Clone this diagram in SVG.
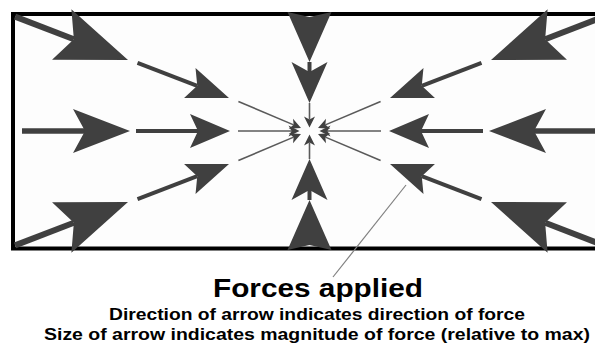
<svg xmlns="http://www.w3.org/2000/svg" xmlns:xlink="http://www.w3.org/1999/xlink" width="595" height="347" viewBox="0 0 595 347">
<style>
.frame{fill:#fdfdfd;stroke:#000;stroke-width:4}
.head{fill:#404040}
.sb{stroke:#404040;stroke-width:6;fill:none}
.sh{stroke:#404040;stroke-width:5.5;fill:none}
.sm{stroke:#404040;stroke-width:4;fill:none}
.st{stroke:#5a5a5a;stroke-width:1.6;fill:none}
.lead{stroke:#808080;stroke-width:1.2;fill:none}
.t{font-family:"Liberation Sans",Arial,sans-serif;font-weight:bold;fill:#000;text-anchor:middle}
</style>
<defs>
<path id="hBD" class="head" d="M0,0 L-71,-27 L-58,0 L-71,27 Z"/>
<path id="hBH" class="head" d="M0,0 L-57,-22 L-45,0 L-57,22 Z"/>
<path id="hBV" class="head" d="M0,0 L-50,-22 L-45,0 L-50,22 Z"/>
<path id="hMD" class="head" d="M0,0 L-42,-16 L-34,0 L-42,16 Z"/>
<path id="hMH" class="head" d="M0,0 L-40,-17 L-32,0 L-40,17 Z"/>
<path id="hMV" class="head" d="M0,0 L-41,-18 L-31,0 L-41,18 Z"/>
<path id="hS" class="head" d="M0,0 L-11,-5.5 L-8,0 L-11,5.5 Z"/>
</defs>
<rect width="595" height="347" fill="#ffffff"/>
<rect id="frame" class="frame" x="13" y="14" width="593" height="234.5"/>
<g id="arrows">
<g id="a-lt-big" transform="translate(128,60) rotate(21)"><line class="sb" x1="-121" y1="0" x2="-58" y2="0"/><use href="#hBD"/></g>
<g id="a-lt-med" transform="translate(229,98) rotate(21)"><line class="sm" x1="-98" y1="0" x2="-34" y2="0"/><use href="#hMD"/></g>
<g id="a-lt-thin" transform="translate(301,128) rotate(23)"><line class="st" x1="-68" y1="0" x2="-8" y2="0"/><use href="#hS"/></g>
<g id="a-lm-big" transform="translate(130,131)"><line class="sh" x1="-108" y1="0" x2="-45" y2="0"/><use href="#hBH"/></g>
<g id="a-lm-med" transform="translate(230,131)"><line class="sm" x1="-94" y1="0" x2="-32" y2="0"/><use href="#hMH"/></g>
<g id="a-lm-thin" transform="translate(299.5,131)"><line class="st" x1="-61.5" y1="0" x2="-8" y2="0"/><use href="#hS"/></g>
<g id="a-lb-big" transform="translate(128,202) rotate(-21)"><line class="sb" x1="-121" y1="0" x2="-58" y2="0"/><use href="#hBD"/></g>
<g id="a-lb-med" transform="translate(229,164) rotate(-21)"><line class="sm" x1="-98" y1="0" x2="-34" y2="0"/><use href="#hMD"/></g>
<g id="a-lb-thin" transform="translate(301,134) rotate(-23)"><line class="st" x1="-68" y1="0" x2="-8" y2="0"/><use href="#hS"/></g>
<g id="a-rt-big" transform="translate(491,60) rotate(159)"><line class="sb" x1="-121" y1="0" x2="-58" y2="0"/><use href="#hBD"/></g>
<g id="a-rt-med" transform="translate(390,98) rotate(159)"><line class="sm" x1="-98" y1="0" x2="-34" y2="0"/><use href="#hMD"/></g>
<g id="a-rt-thin" transform="translate(318,128) rotate(157)"><line class="st" x1="-68" y1="0" x2="-8" y2="0"/><use href="#hS"/></g>
<g id="a-rm-big" transform="translate(489,131) rotate(180)"><line class="sh" x1="-110" y1="0" x2="-45" y2="0"/><use href="#hBH"/></g>
<g id="a-rm-med" transform="translate(389,131) rotate(180)"><line class="sm" x1="-94" y1="0" x2="-32" y2="0"/><use href="#hMH"/></g>
<g id="a-rm-thin" transform="translate(319.5,131) rotate(180)"><line class="st" x1="-61.5" y1="0" x2="-8" y2="0"/><use href="#hS"/></g>
<g id="a-rb-big" transform="translate(491,202) rotate(201)"><line class="sb" x1="-121" y1="0" x2="-58" y2="0"/><use href="#hBD"/></g>
<g id="a-rb-med" transform="translate(390,164) rotate(201)"><line class="sm" x1="-98" y1="0" x2="-34" y2="0"/><use href="#hMD"/></g>
<g id="a-rb-thin" transform="translate(318,134) rotate(203)"><line class="st" x1="-68" y1="0" x2="-8" y2="0"/><use href="#hS"/></g>
<g id="a-t-big" transform="translate(309.5,62) rotate(90)"><use href="#hBV"/></g>
<g id="a-t-med" transform="translate(309.5,103) rotate(90)"><line class="sm" x1="-41" y1="0" x2="-31" y2="0"/><use href="#hMV"/></g>
<g id="a-t-thin" transform="translate(309.5,127.5) rotate(90)"><line class="st" x1="-24.5" y1="0" x2="-8" y2="0"/><use href="#hS"/></g>
<g id="a-b-big" transform="translate(309.5,200) rotate(-90)"><use href="#hBV"/></g>
<g id="a-b-med" transform="translate(309.5,159) rotate(-90)"><line class="sm" x1="-41" y1="0" x2="-31" y2="0"/><use href="#hMV"/></g>
<g id="a-b-thin" transform="translate(309.5,134.5) rotate(-90)"><line class="st" x1="-24.5" y1="0" x2="-8" y2="0"/><use href="#hS"/></g>
<line id="leader" class="lead" x1="406" y1="185" x2="333" y2="277"/>
</g>
<g id="caption">
<text class="t" x="318" y="297" font-size="26.5" textLength="210" lengthAdjust="spacingAndGlyphs">Forces applied</text>
<text class="t" x="317" y="320" font-size="16" textLength="416" lengthAdjust="spacingAndGlyphs">Direction of arrow indicates direction of force</text>
<text class="t" x="317" y="340" font-size="16" textLength="546" lengthAdjust="spacingAndGlyphs">Size of arrow indicates magnitude of force (relative to max)</text>
</g>
</svg>
